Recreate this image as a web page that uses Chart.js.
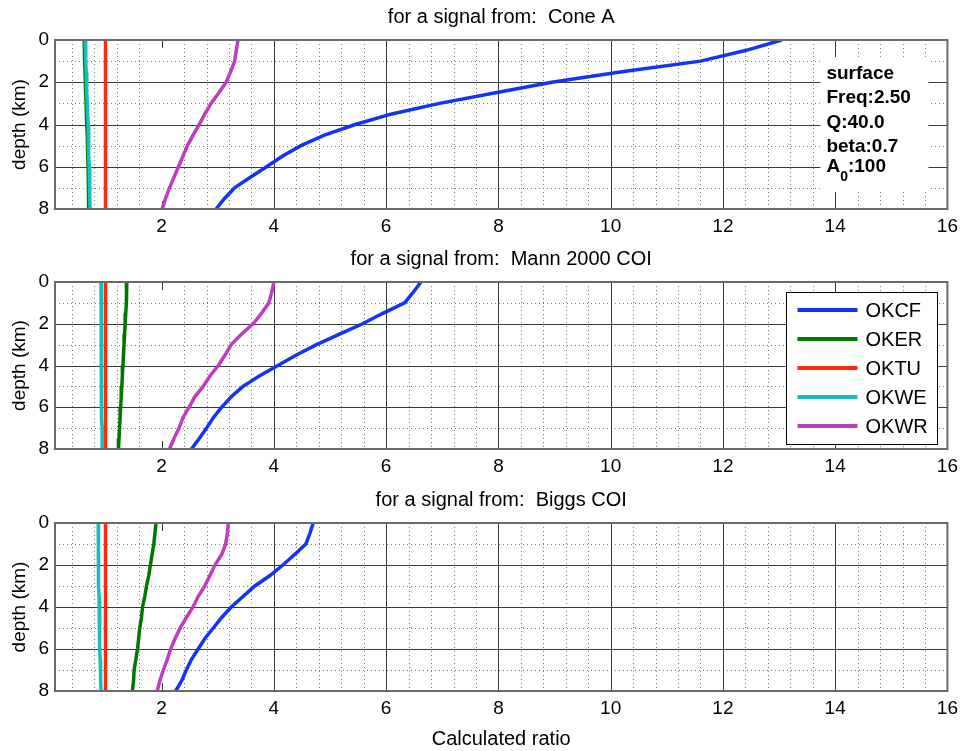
<!DOCTYPE html>
<html>
<head>
<meta charset="utf-8">
<script src="https://cdn.jsdelivr.net/npm/chart.js@4.4.1/dist/chart.umd.min.js"></script>
<style>
  html, body { margin: 0; padding: 0; background: #fff; }
  body { width: 964px; height: 751px; position: relative; overflow: hidden; }
  canvas { position: absolute; left: 0; }
</style>
</head>
<body>
<canvas id="coneA" width="964" height="240" style="top:0px"></canvas>
<canvas id="mann" width="964" height="238" style="top:242px"></canvas>
<canvas id="biggs" width="964" height="268" style="top:483px"></canvas>
<script>
// depth samples (km) shared by every curve
const depthKm = [0, 0.5, 1, 1.5, 2, 2.5, 3, 3.5, 4, 4.5, 5, 5.5, 6, 6.5, 7, 7.5, 8]

const stationNames = ["OKCF", "OKER", "OKTU", "OKWE", "OKWR"]
const stationColors = ["#1533f6", "#007800", "#ff2a08", "#14bebe", "#be3cbe"]

// for a signal from: Cone A
const coneA_OKCF = [13.05, 12.4, 11.6, 10.2, 8.95, 7.95, 6.95, 6.1, 5.45, 4.9, 4.48, 4.15, 3.87, 3.58, 3.3, 3.12, 2.97]
const coneA_OKER = [0.62, 0.625, 0.63, 0.635, 0.64, 0.65, 0.655, 0.66, 0.67, 0.675, 0.68, 0.685, 0.69, 0.695, 0.7, 0.7, 0.705]
const coneA_OKTU = [1, 1, 1, 1, 1, 1, 1, 1, 1, 1, 1, 1, 1, 1, 1, 1, 1]
const coneA_OKWE = [0.64, 0.645, 0.65, 0.655, 0.66, 0.67, 0.675, 0.68, 0.69, 0.695, 0.7, 0.705, 0.71, 0.715, 0.72, 0.72, 0.725]
const coneA_OKWR = [3.36, 3.33, 3.3, 3.23, 3.15, 3.02, 2.88, 2.77, 2.67, 2.56, 2.46, 2.38, 2.3, 2.22, 2.14, 2.07, 2.01]

// for a signal from: Mann 2000 COI
const mann_OKCF = [6.62, 6.48, 6.33, 5.94, 5.58, 5.17, 4.76, 4.4, 4.07, 3.74, 3.45, 3.24, 3.07, 2.92, 2.8, 2.67, 2.53]
const mann_OKER = [1.38, 1.375, 1.37, 1.36, 1.35, 1.34, 1.33, 1.32, 1.31, 1.3, 1.29, 1.28, 1.27, 1.26, 1.25, 1.24, 1.23]
const mann_OKTU = [1, 1, 1, 1, 1, 1, 1, 1, 1, 1, 1, 1, 1, 1, 1, 1, 1]
const mann_OKWE = [0.92, 0.92, 0.92, 0.92, 0.925, 0.925, 0.925, 0.93, 0.93, 0.93, 0.93, 0.935, 0.935, 0.935, 0.94, 0.94, 0.94]
const mann_OKWR = [4.0, 3.96, 3.91, 3.78, 3.63, 3.42, 3.24, 3.13, 3.01, 2.86, 2.74, 2.59, 2.49, 2.38, 2.31, 2.22, 2.14]

// for a signal from: Biggs COI
const biggs_OKCF = [4.7, 4.64, 4.57, 4.37, 4.16, 3.93, 3.66, 3.45, 3.24, 3.07, 2.92, 2.77, 2.65, 2.53, 2.44, 2.36, 2.25]
const biggs_OKER = [1.9, 1.88, 1.86, 1.83, 1.8, 1.77, 1.73, 1.7, 1.66, 1.64, 1.61, 1.59, 1.57, 1.54, 1.51, 1.5, 1.48]
const biggs_OKTU = [1, 1, 1, 1, 1, 1, 1, 1, 1, 1, 1, 1, 1, 1, 1, 1, 1]
const biggs_OKWE = [0.87, 0.87, 0.87, 0.875, 0.875, 0.88, 0.88, 0.885, 0.89, 0.89, 0.895, 0.9, 0.9, 0.905, 0.91, 0.915, 0.92]
const biggs_OKWR = [3.19, 3.17, 3.14, 3.07, 2.95, 2.86, 2.77, 2.65, 2.56, 2.44, 2.33, 2.24, 2.16, 2.1, 2.03, 1.97, 1.92]

// axis ticks
const xTickValues = [2, 4, 6, 8, 10, 12, 14, 16]
const yTickValues = [0, 2, 4, 6, 8]
const xGridMajor = [4, 6, 8, 10, 12, 14] // the 2 line is missing in the original
const yGridMajor = [2, 4, 6]
const yGridMinor = [1, 3, 5, 7]

// text box on the first panel
const noteLines = ["surface", "Freq:2.50", "Q:40.0", "beta:0.7"]
const noteAmp = { base: "A", sub: "0", rest: ":100" }

const fontFamily = "'Liberation Sans', Arial, Helvetica, sans-serif"
Chart.defaults.font.family = fontFamily
Chart.defaults.color = "#000"

// minor x grid every 0.4 between the labelled ticks
const xGridMinor = []
for (let k = 1; k * 0.4 < 16; k++) {
  if (k % 5 !== 0) xGridMinor.push(+(k * 0.4).toFixed(1))
}

const strokeLine = (ctx, x1, y1, x2, y2) => {
  ctx.beginPath()
  ctx.moveTo(x1, y1)
  ctx.lineTo(x2, y2)
  ctx.stroke()
}

// grid, ticks, frame, note and legend drawn the way MATLAB does it
const matlabAxes = {
  id: "matlabAxes",
  beforeDatasetsDraw(chart, args, opts) {
    const { ctx, chartArea: a, scales } = chart
    const xs = scales.x
    const ys = scales.y
    const px = (v) => Math.round(xs.getPixelForValue(v)) + 0.5
    const py = (v) => Math.round(ys.getPixelForValue(v)) + 0.5
    ctx.save()
    ctx.lineWidth = 1

    // dotted minor grid
    ctx.strokeStyle = "#7a7a7a"
    ctx.setLineDash([1, 3])
    xGridMinor.forEach((v) => strokeLine(ctx, px(v), a.top, px(v), a.bottom))
    yGridMinor.forEach((v) => strokeLine(ctx, a.left, py(v), a.right, py(v)))

    // solid major grid
    ctx.setLineDash([])
    ctx.strokeStyle = "#3a3a3a"
    xGridMajor.forEach((v) => strokeLine(ctx, px(v), a.top, px(v), a.bottom))
    yGridMajor.forEach((v) => strokeLine(ctx, a.left, py(v), a.right, py(v)))

    // inward tick marks
    xTickValues.forEach((v) => {
      strokeLine(ctx, px(v), a.top, px(v), a.top + 8)
      strokeLine(ctx, px(v), a.bottom, px(v), a.bottom - 8)
    })

    if (opts.note) {
      const boxLeft = a.right - 127
      const left = a.right - 121
      ctx.fillStyle = "#fff"
      ctx.fillRect(boxLeft, a.top + 17, 108, 135)
      ctx.fillStyle = "#000"
      ctx.textAlign = "left"
      ctx.textBaseline = "alphabetic"
      ctx.font = `bold 19px ${fontFamily}`
      const baselines = [39, 63, 88, 112]
      noteLines.forEach((t, i) => ctx.fillText(t, left, a.top + baselines[i]))
      const yA = a.top + 132
      ctx.fillText(noteAmp.base, left, yA)
      const wA = ctx.measureText(noteAmp.base).width
      ctx.font = `bold 14px ${fontFamily}`
      ctx.fillText(noteAmp.sub, left + wA, yA + 9)
      const wS = ctx.measureText(noteAmp.sub).width
      ctx.font = `bold 19px ${fontFamily}`
      ctx.fillText(noteAmp.rest, left + wA + wS, yA)
    }
    ctx.restore()
  },
  afterDatasetsDraw(chart, args, opts) {
    const { ctx, chartArea: a } = chart
    ctx.save()

    if (opts.legend) {
      const bx = Math.round(a.right - 161) + 0.5
      const by = Math.round(a.top + 10) + 0.5
      ctx.fillStyle = "#fff"
      ctx.fillRect(bx, by, 151, 152)
      ctx.strokeStyle = "#000"
      ctx.lineWidth = 1
      ctx.strokeRect(bx, by, 151, 152)
      ctx.font = `20px ${fontFamily}`
      ctx.textAlign = "left"
      ctx.textBaseline = "middle"
      chart.data.datasets.forEach((ds, i) => {
        const ry = by + 17.5 + i * 29
        ctx.strokeStyle = ds.borderColor
        ctx.lineWidth = 4
        strokeLine(ctx, bx + 11, ry, bx + 71, ry)
        ctx.fillStyle = "#000"
        ctx.fillText(ds.label, bx + 79, ry + 1)
      })
    }

    // axes frame
    ctx.strokeStyle = "#6a6a6a"
    ctx.lineWidth = 2
    ctx.strokeRect(a.left, a.top, a.right - a.left, a.bottom - a.top)
    ctx.restore()
  },
}

const makeChart = (canvasId, titleText, series, extra) => {
  const datasets = series.map((vals, i) => ({
    label: stationNames[i],
    data: vals.map((v, j) => ({ x: v, y: depthKm[j] })),
    borderColor: stationColors[i],
    backgroundColor: stationColors[i],
    borderWidth: 3.5,
    pointRadius: 0,
    showLine: true,
    tension: 0,
    order: series.length - i, // later stations drawn on top
  }))

  return new Chart(document.getElementById(canvasId), {
    type: "scatter",
    data: { datasets },
    options: {
      responsive: false,
      animation: false,
      devicePixelRatio: 1,
      layout: { padding: { left: 0, right: 15, top: 0, bottom: 0 } },
      plugins: {
        legend: { display: false },
        tooltip: { enabled: false },
        title: {
          display: true,
          text: titleText,
          fullSize: false,
          color: "#000",
          font: { size: 20, weight: "normal" },
          padding: { top: 5, bottom: 11 },
        },
        matlabAxes: extra,
      },
      scales: {
        x: {
          type: "linear",
          min: 0.1,
          max: 16,
          afterBuildTicks: (scale) => {
            scale.ticks = xTickValues.map((v) => ({ value: v }))
          },
          afterFit: (scale) => {
            scale.height = extra.xTitle ? 60 : 31
          },
          grid: { display: false, drawTicks: false },
          border: { display: false },
          ticks: {
            padding: 6,
            maxRotation: 0,
            autoSkip: false,
            color: "#000",
            font: { size: 19 },
            callback: (v) => String(v),
          },
          title: {
            display: !!extra.xTitle,
            text: extra.xTitle || "",
            color: "#000",
            font: { size: 20 },
            padding: { top: 0, bottom: 0 },
          },
        },
        y: {
          type: "linear",
          reverse: true,
          min: 0,
          max: 8,
          afterBuildTicks: (scale) => {
            scale.ticks = yTickValues.map((v) => ({ value: v }))
          },
          afterFit: (scale) => {
            scale.width = 55
          },
          grid: { display: false, drawTicks: false },
          border: { display: false },
          ticks: {
            padding: 6,
            color: "#000",
            font: { size: 19 },
            callback: (v) => String(v),
          },
          title: {
            display: true,
            text: "depth (km)",
            color: "#000",
            font: { size: 19 },
            padding: { top: 8, bottom: 0 },
          },
        },
      },
    },
    plugins: [matlabAxes],
  })
}

makeChart("coneA", "for a signal from:  Cone A",
  [coneA_OKCF, coneA_OKER, coneA_OKTU, coneA_OKWE, coneA_OKWR], { note: true })
makeChart("mann", "for a signal from:  Mann 2000 COI",
  [mann_OKCF, mann_OKER, mann_OKTU, mann_OKWE, mann_OKWR], { legend: true })
makeChart("biggs", "for a signal from:  Biggs COI",
  [biggs_OKCF, biggs_OKER, biggs_OKTU, biggs_OKWE, biggs_OKWR], { xTitle: "Calculated ratio" })
</script>
</body>
</html>
